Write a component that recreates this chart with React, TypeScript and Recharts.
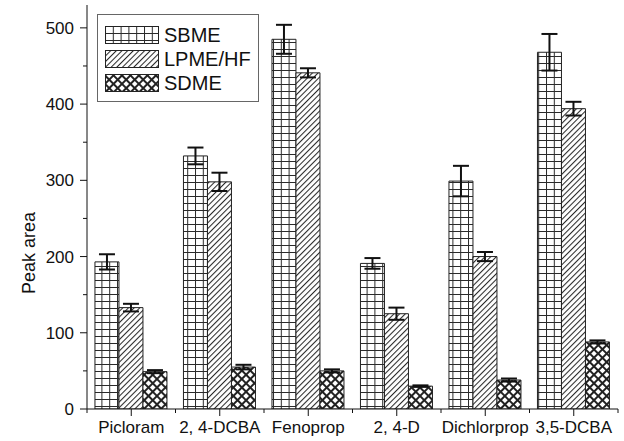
import React from "react";
import { Bar, BarChart, ErrorBar, Legend, XAxis, YAxis } from "recharts";

const categories = ["Picloram", "2, 4-DCBA", "Fenoprop", "2, 4-D", "Dichlorprop", "3,5-DCBA"];
const sbme = [193, 332, 485, 191, 299, 468];
const sbmeErr = [10, 11, 19, 7, 20, 24];
const lpme = [133, 298, 441, 125, 200, 394];
const lpmeErr = [5, 12, 6, 8, 6, 9];
const sdme = [49, 55, 50, 30, 38, 88];
const sdmeErr = [2, 3, 2, 1, 2, 2];
const yTicks = [0, 50, 100, 150, 200, 250, 300, 350, 400, 450, 500];

const data = categories.map((name, i) => ({
  name,
  sbme: sbme[i],
  sbmeErr: sbmeErr[i],
  lpme: lpme[i],
  lpmeErr: lpmeErr[i],
  sdme: sdme[i],
  sdmeErr: sdmeErr[i],
}));

const FONT = "Arial, 'Liberation Sans', sans-serif";
const TICK = 7;
const MINOR = 4;
const Y_MARGIN = 6;
const X_MARGIN = 3;

const series = [
  { key: "sbme", err: "sbmeErr", label: "SBME", fill: "url(#pSbme)" },
  { key: "lpme", err: "lpmeErr", label: "LPME/HF", fill: "url(#pLpme)" },
  { key: "sdme", err: "sdmeErr", label: "SDME", fill: "url(#pSdme)" },
];

// y ticks: labelled majors every 100, short unlabelled minors at the 50s
function YTick(props: any) {
  const { x, y, payload } = props;
  const axisX = x + TICK + Y_MARGIN;
  const major = payload.value % 100 === 0;
  return (
    <g>
      <line x1={axisX - (major ? TICK : MINOR)} x2={axisX} y1={y} y2={y} stroke="#111" strokeWidth={1} />
      {major && (
        <text x={x} y={y} dy="0.36em" textAnchor="end" fontSize={17} fontFamily={FONT} fill="#111">
          {payload.value}
        </text>
      )}
    </g>
  );
}

// x ticks: major at each category, minor ticks on the band edges
function XTick(props: any) {
  const { x, y, payload, index } = props;
  const axisY = y - TICK - X_MARGIN;
  const half = payload.offset || 44;
  return (
    <g>
      <line x1={x} x2={x} y1={axisY} y2={axisY + TICK} stroke="#111" strokeWidth={1} />
      {index === 0 && (
        <line x1={x - half} x2={x - half} y1={axisY} y2={axisY + MINOR} stroke="#111" strokeWidth={1} />
      )}
      <line x1={x + half} x2={x + half} y1={axisY} y2={axisY + MINOR} stroke="#111" strokeWidth={1} />
      <text x={x} y={y} dy="0.8em" textAnchor="middle" fontSize={17} fontFamily={FONT} fill="#111">
        {payload.value}
      </text>
    </g>
  );
}

function LegendBox() {
  return (
    <div
      style={{
        border: "1px solid #666",
        background: "#fff",
        boxSizing: "border-box",
        width: 162,
        height: 88,
        padding: "8px 0 0 7px",
        fontFamily: FONT,
      }}
    >
      {series.map((s) => (
        <div key={s.key} style={{ display: "flex", alignItems: "center", height: 24 }}>
          <svg width={54} height={18} style={{ display: "block" }}>
            <rect x={0.5} y={0.5} width={53} height={17} fill={s.fill} stroke="#222" strokeWidth={1} />
          </svg>
          <span style={{ marginLeft: 5, fontSize: 20, color: "#111", lineHeight: "24px" }}>{s.label}</span>
        </div>
      ))}
    </div>
  );
}

export default function App() {
  return (
    <div style={{ position: "absolute", left: 0, top: 0, width: 624, height: 441, background: "#fff" }}>
      <BarChart
        width={624}
        height={441}
        data={data}
        margin={{ top: 5, right: 6, bottom: 2, left: 27 }}
        barCategoryGap="9%"
        barGap={0}
      >
        <defs>
          <pattern id="pSbme" width={7.8} height={7} patternUnits="userSpaceOnUse">
            <rect width={7.8} height={7} fill="#fff" />
            <path d="M0 0.5 H7.8 M0.5 0 V7" stroke="#2a2a2a" strokeWidth={1} />
          </pattern>
          <pattern id="pLpme" width={4} height={4} patternUnits="userSpaceOnUse" patternTransform="rotate(45)">
            <rect width={4} height={4} fill="#fff" />
            <line x1={0.5} y1={0} x2={0.5} y2={4} stroke="#2a2a2a" strokeWidth={1.1} />
          </pattern>
          <pattern id="pSdme" width={6} height={6} patternUnits="userSpaceOnUse" patternTransform="rotate(45)">
            <rect width={6} height={6} fill="#fff" />
            <path d="M0 1 H6 M1 0 V6" stroke="#222" strokeWidth={2} />
          </pattern>
        </defs>
        <XAxis
          dataKey="name"
          height={30}
          tickSize={TICK}
          tickMargin={X_MARGIN}
          tickLine={false}
          axisLine={{ stroke: "#111", strokeWidth: 1 }}
          tick={<XTick />}
          interval={0}
        />
        <YAxis
          width={60}
          domain={[0, 530]}
          ticks={yTicks}
          tickSize={TICK}
          tickMargin={Y_MARGIN}
          tickLine={false}
          axisLine={{ stroke: "#111", strokeWidth: 1 }}
          tick={<YTick />}
          interval={0}
          allowDataOverflow
          label={{
            value: "Peak area",
            angle: -90,
            position: "center",
            dx: -28,
            dy: 46,
            fontSize: 18,
            fontFamily: FONT,
            fill: "#111",
          }}
        />
        <Legend
          layout="vertical"
          align="center"
          verticalAlign="middle"
          content={<LegendBox />}
          wrapperStyle={{ left: 97, top: 14, width: 162, height: 88 }}
        />
        {series.map((s) => (
          <Bar
            key={s.key}
            dataKey={s.key}
            name={s.label}
            fill={s.fill}
            stroke="#222"
            strokeWidth={1}
            isAnimationActive={false}
          >
            <ErrorBar dataKey={s.err} width={8} stroke="#111" strokeWidth={2} />
          </Bar>
        ))}
      </BarChart>
    </div>
  );
}
